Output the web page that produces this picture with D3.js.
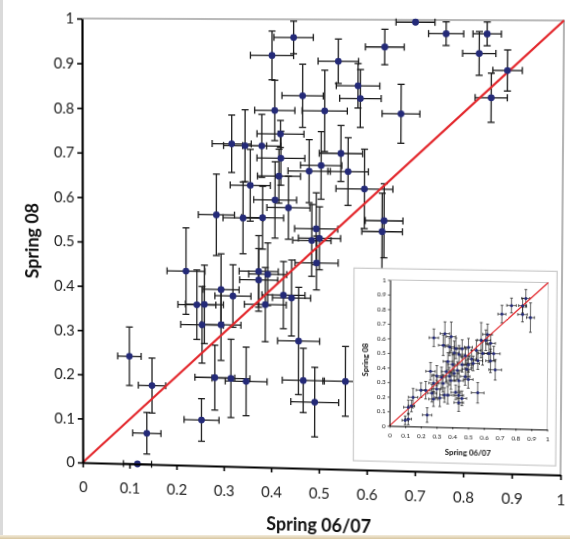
<!DOCTYPE html>
<html>
<head>
<meta charset="utf-8">
<script src="https://cdn.jsdelivr.net/npm/d3@7"></script>
<style>
  html, body { margin: 0; padding: 0; background: #fff; }
  #wrap { position: relative; width: 570px; height: 539px; overflow: hidden; background: #fff; }
  #chart { position: absolute; left: 0; top: 0; transform-origin: 0 0; }
  .edge-left { position: absolute; left: 0; top: 0; width: 3px; height: 539px; background: #dadada; }
  .edge-bottom { position: absolute; left: 0; bottom: 0; width: 570px; height: 4px; background: linear-gradient(#f3ecdd, #d8c6a0); }
</style>
</head>
<body>
<div id="wrap">
  <svg id="chart" width="570" height="539"></svg>
  <div class="edge-left"></div>
  <div class="edge-bottom"></div>
</div>
<script>
// ---- main scatter: Spring 06/07 (x) vs Spring 08 (y), with errors ----
const spring0607 = [0.445, 0.400, 0.697, 0.760, 0.844, 0.634, 0.828, 0.886, 0.853, 0.538, 0.579, 0.584, 0.464,
  0.406, 0.510, 0.668, 0.418, 0.316, 0.344, 0.379, 0.419, 0.544, 0.503, 0.478, 0.559, 0.415, 0.593, 0.355,
  0.407, 0.435, 0.284, 0.340, 0.381, 0.634, 0.630, 0.493, 0.500, 0.484, 0.494, 0.373, 0.392, 0.373, 0.294,
  0.319, 0.425, 0.442, 0.243, 0.259, 0.387, 0.254, 0.294, 0.457, 0.281, 0.315, 0.347, 0.467, 0.555, 0.491,
  0.220, 0.100, 0.148, 0.137, 0.117, 0.253];
const spring08 = [0.960, 0.920, 0.995, 0.970, 0.970, 0.940, 0.927, 0.890, 0.830, 0.908, 0.854, 0.826, 0.831,
  0.798, 0.798, 0.793, 0.746, 0.723, 0.719, 0.719, 0.692, 0.704, 0.677, 0.664, 0.664, 0.652, 0.626, 0.631,
  0.599, 0.582, 0.564, 0.558, 0.559, 0.556, 0.532, 0.536, 0.515, 0.510, 0.460, 0.439, 0.433, 0.420, 0.397,
  0.383, 0.387, 0.381, 0.362, 0.363, 0.365, 0.317, 0.318, 0.285, 0.199, 0.198, 0.192, 0.197, 0.197, 0.149,
  0.437, 0.243, 0.178, 0.070, 0.000, 0.103];
const err0607 = [0.041, 0.045, 0.040, 0.036, 0.029, 0.040, 0.034, 0.030, 0.033, 0.042, 0.045, 0.043, 0.043,
  0.042, 0.047, 0.039, 0.049, 0.041, 0.045, 0.040, 0.050, 0.045, 0.043, 0.044, 0.042, 0.045, 0.059, 0.042,
  0.045, 0.045, 0.038, 0.042, 0.044, 0.039, 0.042, 0.045, 0.044, 0.040, 0.045, 0.041, 0.040, 0.040, 0.038,
  0.038, 0.045, 0.040, 0.040, 0.040, 0.044, 0.045, 0.042, 0.044, 0.042, 0.040, 0.044, 0.044, 0.047, 0.050,
  0.040, 0.025, 0.029, 0.030, 0.030, 0.037];
const err08 = [0.036, 0.054, 0.000, 0.026, 0.026, 0.039, 0.048, 0.045, 0.054, 0.049, 0.049, 0.064, 0.070,
  0.067, 0.090, 0.065, 0.030, 0.064, 0.080, 0.070, 0.060, 0.062, 0.075, 0.070, 0.075, 0.060, 0.088, 0.080,
  0.085, 0.070, 0.091, 0.080, 0.070, 0.082, 0.085, 0.080, 0.070, 0.080, 0.060, 0.080, 0.070, 0.070, 0.080,
  0.070, 0.075, 0.085, 0.078, 0.088, 0.083, 0.086, 0.080, 0.120, 0.073, 0.088, 0.077, 0.072, 0.078, 0.078,
  0.097, 0.066, 0.062, 0.047, 0.000, 0.048];

// ---- inset scatter ----
const insetX = [0.86, 0.77, 0.84, 0.71, 0.84, 0.89,
  0.35, 0.28, 0.39, 0.58, 0.61, 0.64, 0.62,
  0.34, 0.38, 0.42, 0.46, 0.50, 0.55, 0.59, 0.63, 0.66, 0.41, 0.44, 0.48, 0.52, 0.56,
  0.37, 0.40, 0.46, 0.50, 0.53, 0.64, 0.67, 0.49, 0.43, 0.36,
  0.26, 0.30, 0.33, 0.38, 0.41, 0.48, 0.50, 0.28, 0.34, 0.39, 0.44, 0.23,
  0.27, 0.30, 0.35, 0.28, 0.32, 0.37, 0.44, 0.46, 0.44, 0.42, 0.56, 0.15, 0.20,
  0.12, 0.14, 0.10, 0.12, 0.24];
const insetY = [0.89, 0.84, 0.84, 0.78, 0.78, 0.76,
  0.64, 0.61, 0.62, 0.60, 0.60, 0.58, 0.64,
  0.56, 0.55, 0.54, 0.54, 0.55, 0.53, 0.51, 0.51, 0.51, 0.51, 0.50, 0.49, 0.47, 0.46,
  0.45, 0.43, 0.43, 0.43, 0.44, 0.46, 0.40, 0.40, 0.39, 0.38,
  0.38, 0.35, 0.34, 0.35, 0.37, 0.35, 0.33, 0.30, 0.30, 0.32, 0.32, 0.25,
  0.23, 0.26, 0.22, 0.19, 0.20, 0.22, 0.22, 0.20, 0.17, 0.24, 0.24, 0.20, 0.25,
  0.13, 0.14, 0.04, 0.05, 0.08];
const insetXErr = [0.025, 0.030, 0.025, 0.025, 0.030, 0.025,
  0.030, 0.030, 0.030, 0.025, 0.030, 0.030, 0.030,
  0.030, 0.030, 0.030, 0.030, 0.025, 0.030, 0.030, 0.030, 0.040, 0.030, 0.040, 0.030, 0.030, 0.030,
  0.030, 0.030, 0.030, 0.030, 0.040, 0.030, 0.040, 0.030, 0.030, 0.030,
  0.030, 0.030, 0.030, 0.040, 0.030, 0.030, 0.030, 0.030, 0.030, 0.030, 0.030, 0.030,
  0.030, 0.030, 0.030, 0.030, 0.030, 0.030, 0.030, 0.030, 0.030, 0.030, 0.040, 0.030, 0.030,
  0.030, 0.020, 0.020, 0.020, 0.030];
const insetYErr = [0.06, 0.05, 0.05, 0.06, 0.05, 0.10,
  0.08, 0.06, 0.10, 0.12, 0.07, 0.06, 0.07,
  0.07, 0.06, 0.07, 0.06, 0.06, 0.07, 0.08, 0.06, 0.05, 0.08, 0.06, 0.06, 0.06, 0.06,
  0.06, 0.07, 0.05, 0.05, 0.05, 0.08, 0.07, 0.06, 0.06, 0.07,
  0.06, 0.07, 0.07, 0.06, 0.05, 0.06, 0.06, 0.06, 0.06, 0.06, 0.07, 0.06,
  0.06, 0.06, 0.05, 0.05, 0.06, 0.06, 0.06, 0.05, 0.06, 0.05, 0.07, 0.06, 0.05,
  0.05, 0.04, 0.03, 0.04, 0.05];

const tickValues = [0, 0.1, 0.2, 0.3, 0.4, 0.5, 0.6, 0.7, 0.8, 0.9, 1];
const tickLabels = ["0", "0.1", "0.2", "0.3", "0.4", "0.5", "0.6", "0.7", "0.8", "0.9", "1"];
const xTitle = "Spring 06/07";
const yTitle = "Spring 08";

const FONT = "Lato, 'Open Sans', 'DejaVu Sans', sans-serif";
const MARKER = "#242a78";
const BAR = "#1c1c1c";
const DIAG = "#e3272c";

const plot = { left: 82, top: 18, width: 480, height: 446 };
const x = d3.scaleLinear().domain([0, 1]).range([plot.left, plot.left + plot.width]);
const y = d3.scaleLinear().domain([0, 1]).range([plot.top + plot.height, plot.top]);

const svg = d3.select("#chart");

// error bars with caps, clipped to the unit square
function drawErrorBars(g, xs, ys, xe, ye, sx, sy, cap, width) {
  const clamp = v => Math.max(0, Math.min(1, v));
  const pts = xs.map((d, i) => ({ x: d, y: ys[i], ex: xe[i], ey: ye[i] }));
  const bars = g.append("g").attr("stroke", BAR).attr("stroke-width", width).attr("fill", "none");
  pts.forEach(p => {
    const b = bars.append("g");
    if (p.ex > 0) {
      const x0 = sx(clamp(p.x - p.ex)), x1 = sx(clamp(p.x + p.ex)), yy = sy(p.y);
      b.append("line").attr("x1", x0).attr("x2", x1).attr("y1", yy).attr("y2", yy);
      b.append("line").attr("x1", x0).attr("x2", x0).attr("y1", yy - cap).attr("y2", yy + cap);
      b.append("line").attr("x1", x1).attr("x2", x1).attr("y1", yy - cap).attr("y2", yy + cap);
    }
    if (p.ey > 0) {
      const y0 = sy(clamp(p.y - p.ey)), y1 = sy(clamp(p.y + p.ey)), xx = sx(p.x);
      b.append("line").attr("x1", xx).attr("x2", xx).attr("y1", y0).attr("y2", y1);
      b.append("line").attr("x1", xx - cap).attr("x2", xx + cap).attr("y1", y0).attr("y2", y0);
      b.append("line").attr("x1", xx - cap).attr("x2", xx + cap).attr("y1", y1).attr("y2", y1);
    }
  });
  return pts;
}

function drawPanel(g, sx, sy, opt) {
  // plot frame (top and right edges)
  g.append("path")
    .attr("d", `M${sx(0)},${sy(1)}H${sx(1)}V${sy(0)}`)
    .attr("fill", "none").attr("stroke", opt.frame).attr("stroke-width", opt.frameWidth);

  const pts = drawErrorBars(g, opt.xs, opt.ys, opt.xe, opt.ye, sx, sy, opt.cap, opt.barWidth);

  // 1:1 reference line
  g.append("line")
    .attr("x1", sx(0)).attr("y1", sy(0)).attr("x2", sx(1)).attr("y2", sy(1))
    .attr("stroke", DIAG).attr("stroke-width", opt.diagWidth);

  g.append("g").selectAll("circle").data(pts).join("circle")
    .attr("cx", d => sx(d.x)).attr("cy", d => sy(d.y)).attr("r", opt.r)
    .attr("fill", MARKER);

  const fmt = (d, i) => tickLabels[i];
  const gx = g.append("g").attr("transform", `translate(0,${sy(0)})`)
    .call(d3.axisBottom(sx).tickValues(tickValues).tickFormat(fmt)
      .tickSize(opt.tick).tickSizeOuter(0).tickPadding(opt.xPad));
  const gy = g.append("g").attr("transform", `translate(${sx(0)},0)`)
    .call(d3.axisLeft(sy).tickValues(tickValues).tickFormat(fmt)
      .tickSize(opt.tick).tickSizeOuter(0).tickPadding(opt.yPad));
  [gx, gy].forEach(a => {
    a.select(".domain").attr("stroke", "#000").attr("stroke-width", opt.axisWidth);
    a.selectAll(".tick line").attr("stroke", "#000").attr("stroke-width", opt.tickWidth);
    a.selectAll(".tick text").attr("fill", "#222").attr("font-family", FONT)
      .attr("font-size", opt.tickFont);
  });

  g.append("text")
    .attr("x", (sx(0) + sx(1)) / 2).attr("y", sy(0) + opt.xTitleOffset)
    .attr("text-anchor", "middle").attr("font-family", FONT).attr("font-weight", 700)
    .attr("font-size", opt.titleFont).attr("fill", "#111").text(xTitle);
  g.append("text")
    .attr("transform", `translate(${sx(0) - opt.yTitleOffset},${sy(opt.yTitleAt)}) rotate(-90)`)
    .attr("text-anchor", "middle").attr("font-family", FONT).attr("font-weight", 700)
    .attr("font-size", opt.titleFont).attr("fill", "#111").text(yTitle);
}

const main = svg.append("g");
drawPanel(main, x, y, {
  xs: spring0607, ys: spring08, xe: err0607, ye: err08,
  frame: "#a3a3a3", frameWidth: 1.6, cap: 3.5, barWidth: 1.3, diagWidth: 2.2, r: 3.4,
  tick: 5, xPad: 14, yPad: 3, axisWidth: 2.2, tickWidth: 1.6, tickFont: 15,
  titleFont: 18, xTitleOffset: 63, yTitleOffset: 45, yTitleAt: 0.5
});

// inset box sits inside the lower-right corner of the main plot
const inset = svg.append("g");
inset.append("rect")
  .attr("x", x(0.572)).attr("y", y(0.45))
  .attr("width", x(0.99) - x(0.572)).attr("height", y(0.02) - y(0.45))
  .attr("fill", "#fff").attr("stroke", "#c9c9c9").attr("stroke-width", 1.2);
const xi = d3.scaleLinear().domain([0, 1]).range([x(0.647), x(0.972)]);
const yi = d3.scaleLinear().domain([0, 1]).range([y(0.1), y(0.425)]);
drawPanel(inset, xi, yi, {
  xs: insetX, ys: insetY, xe: insetXErr, ye: insetYErr,
  frame: "#b5b5b5", frameWidth: 0.8, cap: 1.4, barWidth: 0.7, diagWidth: 1.2, r: 1.5,
  tick: 2, xPad: 5, yPad: 2, axisWidth: 1, tickWidth: 0.7, tickFont: 6.3,
  titleFont: 7.8, xTitleOffset: 28, yTitleOffset: 22, yTitleAt: 0.45
});

// slight perspective: map the flat plot corners onto the printed page's corners
function homography(src, dst) {
  const A = [], b = [];
  for (let i = 0; i < 4; i++) {
    const [sxv, syv] = src[i], [dx, dy] = dst[i];
    A.push([sxv, syv, 1, 0, 0, 0, -dx * sxv, -dx * syv]); b.push(dx);
    A.push([0, 0, 0, sxv, syv, 1, -dy * sxv, -dy * syv]); b.push(dy);
  }
  const n = 8;
  for (let c = 0; c < n; c++) {
    let p = c;
    for (let r = c + 1; r < n; r++) if (Math.abs(A[r][c]) > Math.abs(A[p][c])) p = r;
    [A[c], A[p]] = [A[p], A[c]]; [b[c], b[p]] = [b[p], b[c]];
    for (let r = c + 1; r < n; r++) {
      const f = A[r][c] / A[c][c];
      for (let k = c; k < n; k++) A[r][k] -= f * A[c][k];
      b[r] -= f * b[c];
    }
  }
  const h = new Array(n);
  for (let r = n - 1; r >= 0; r--) {
    let s = b[r];
    for (let k = r + 1; k < n; k++) s -= A[r][k] * h[k];
    h[r] = s / A[r][r];
  }
  return [[h[0], h[1], h[2]], [h[3], h[4], h[5]], [h[6], h[7], 1]];
}
const L = x(0), R = x(1), T = y(1), B = y(0);
const Hm = homography(
  [[L, T], [R, T], [L, B], [R, B]],
  [[82, 18.5], [564, 20.5], [82.7, 462.5], [560.5, 475]]
);
const m3d = [Hm[0][0], Hm[1][0], 0, Hm[2][0],
             Hm[0][1], Hm[1][1], 0, Hm[2][1],
             0, 0, 1, 0,
             Hm[0][2], Hm[1][2], 0, Hm[2][2]];
document.getElementById("chart").style.transform = `matrix3d(${m3d.join(",")})`;
</script>
</body>
</html>
